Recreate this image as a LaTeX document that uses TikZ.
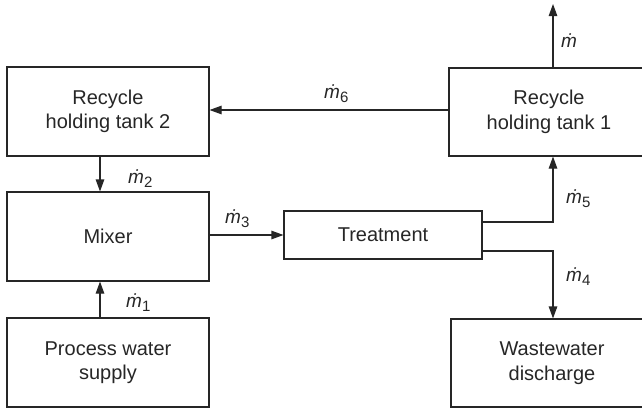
\documentclass[tikz,border=0pt]{standalone}
\usepackage{fontspec}
\setmainfont{Liberation Sans}
\usetikzlibrary{arrows.meta}
\newcommand\mflow[1]{\textit{ṁ}\raisebox{-4.5pt}{\fontsize{15}{15}\selectfont #1}}
\tikzset{
  blk/.style={draw=black!85, line width=1.1pt, align=center, inner sep=0pt,
    font=\fontsize{20}{24.5}\selectfont, text=black!85},
  arr/.style={draw=black!85, line width=1.1pt, -{Triangle[length=12pt,width=8.5pt]}},
  flow/.style={inner sep=0pt, anchor=base west, font=\fontsize{19}{19}\selectfont, text=black!85},
}
\begin{document}
\begin{tikzpicture}[x=1pt,y=-1pt]
\useasboundingbox (0,0) rectangle (642,407);
\clip (0,0) rectangle (642,407);
\node[blk, minimum width=202pt, minimum height=89pt] (tank2) at (108,111.5) {Recycle\\holding tank 2};
\node[blk, minimum width=202pt, minimum height=89pt] (mixer) at (108,236.5) {Mixer};
\node[blk, minimum width=202pt, minimum height=89pt] (proc) at (108,362.5) {Process water\\supply};
\node[blk, minimum width=198pt, minimum height=48pt] (treat) at (383,235) {Treatment};
\node[blk, minimum width=200pt, minimum height=88pt] (tank1) at (549,112) {Recycle\\holding tank 1};
\node[blk, minimum width=202pt, minimum height=88pt] (waste) at (552,363) {Wastewater\\discharge};
\coordinate (x100) at (100,0);
\coordinate (x553) at (553,0);
\coordinate (top) at (553,4);
\coordinate (y110) at (0,110);
\coordinate (y222) at (0,222);
\coordinate (y251) at (0,251);
\draw[arr] (tank1.north -| top) -- (top);
\draw[arr] (tank1.west |- y110) -- (tank2.east |- y110);
\draw[arr] (tank2.south -| x100) -- (mixer.north -| x100);
\draw[arr] (proc.north -| x100) -- (mixer.south -| x100);
\draw[arr] (mixer.east |- treat.west) -- (treat.west);
\draw[arr] (treat.east |- y222) -| (tank1.south -| x553);
\draw[arr] (treat.east |- y251) -| (waste.north -| x553);
\node[flow] (l0) at (561,47) {\textit{ṁ}};
\node[flow] (l6) at (324,98) {\mflow{6}};
\node[flow] (l2) at (128,183) {\mflow{2}};
\node[flow] (l3) at (225,223) {\mflow{3}};
\node[flow] (l1) at (126,307) {\mflow{1}};
\node[flow] (l5) at (566,203) {\mflow{5}};
\node[flow] (l4) at (566,281) {\mflow{4}};
\end{tikzpicture}
\end{document}
